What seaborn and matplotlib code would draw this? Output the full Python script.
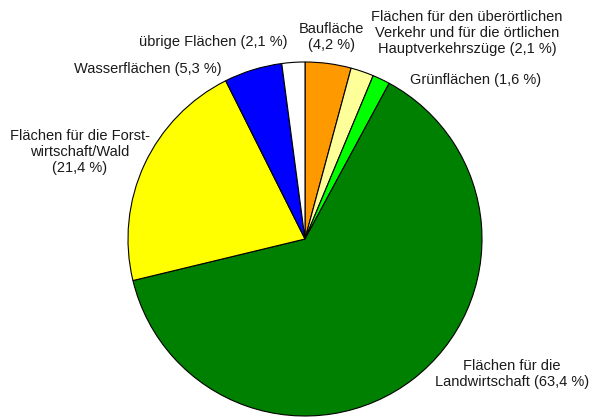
import matplotlib
matplotlib.use("Agg")
import matplotlib.pyplot as plt
import seaborn as sns

sns.set_theme(style="white")
plt.rcParams['font.family'] = ['Liberation Sans', 'DejaVu Sans']

categories = ["Baufläche", "Verkehr", "Grünflächen", "Landwirtschaft",
              "Forstwirtschaft/Wald", "Wasserflächen", "übrige Flächen"]
values = [4.2, 2.1, 1.6, 63.4, 21.4, 5.3, 2.1]
colors = ["#FF9900", "#FFFF99", "#00FF00", "#008000", "#FFFF00", "#0000FF", "#FFFFFF"]
labels = [
    "Baufläche\n(4,2 %)",
    "Flächen für den überörtlichen\nVerkehr und für die örtlichen\nHauptverkehrszüge (2,1 %)",
    "Grünflächen (1,6 %)",
    "Flächen für die\nLandwirtschaft (63,4 %)",
    "Flächen für die Forst-\nwirtschaft/Wald\n(21,4 %)",
    "Wasserflächen (5,3 %)",
    "übrige Flächen (2,1 %)",
]

W, H = 591, 418
fig = plt.figure(figsize=(W / 100, H / 100), dpi=100)
ax = fig.add_axes([0, 0, 1, 1])

ax.pie(values, colors=colors, startangle=90, counterclock=False,
       center=(305, H - 239), radius=177,
       wedgeprops=dict(edgecolor="black", linewidth=0.8))
ax.set_xlim(0, W)
ax.set_ylim(0, H)
ax.set_aspect("auto")
ax.axis("off")

# label positions (pixel coords from top-left)
pos = [
    (331, 37),
    (467, 33),
    (476, 80),
    (512, 374),
    (80, 152),
    (148, 69),
    (213, 42),
]
for lab, (x, y) in zip(labels, pos):
    ax.text(x, H - y, lab, ha="center", va="center", fontsize=10.5,
            color="#1a1a1a", linespacing=1.2)

fig.savefig("out.png", dpi=100)
